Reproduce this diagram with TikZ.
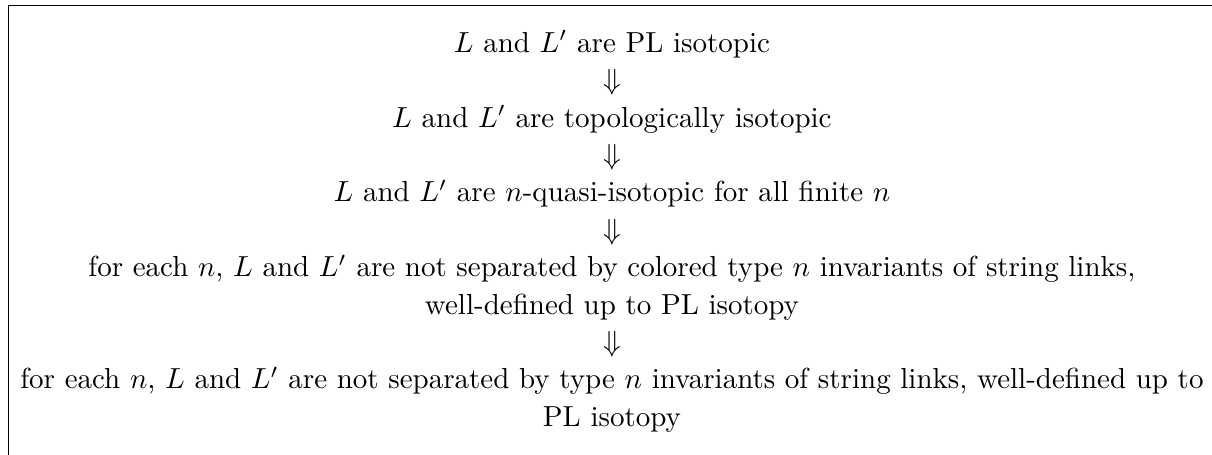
\documentclass[tikz,border=0pt]{standalone}
\tikzset{stmt/.style={anchor=base, inner sep=0pt}}
\begin{document}
\begin{tikzpicture}[x=1pt, y=1pt, line width=0.4pt]
	\useasboundingbox (0,0) rectangle (417.9,-156.6);
	\coordinate (TL) at (2.9,-1.9);
	\coordinate (TR) at (418.2,-1.9);
	\coordinate (BL) at (2.9,-156.9);
	
	% Table rules
	\draw (TR) -- (TL) -- (BL);
	
	% Statements
	\node[stmt] (pl) at (211,-18.0) {$L$ and $L'$ are PL isotopic};
	\node[stmt] (a1) at (211,-30.9) {$\Downarrow$};
	\node[stmt] (topo) at (211,-43.8) {$L$ and $L'$ are topologically isotopic};
	\node[stmt] (a2) at (211,-56.7) {$\Downarrow$};
	\node[stmt] (quasi) at (211,-69.6) {$L$ and $L'$ are $n$-quasi-isotopic for all finite $n$};
	\node[stmt] (a3) at (211,-82.5) {$\Downarrow$};
	\node[stmt] (col) at (211,-95.4) {for each $n$, $L$ and $L'$ are not separated by colored type $n$ invariants of string links,};
	\node[stmt] (colb) at (211,-108.3) {well-defined up to PL isotopy};
	\node[stmt] (a4) at (211,-121.2) {$\Downarrow$};
	\node[stmt] (typ) at (211,-134.1) {for each $n$, $L$ and $L'$ are not separated by type $n$ invariants of string links, well-defined up to};
	\node[stmt] (typb) at (211,-147.0) {PL isotopy};
\end{tikzpicture}
\end{document}
